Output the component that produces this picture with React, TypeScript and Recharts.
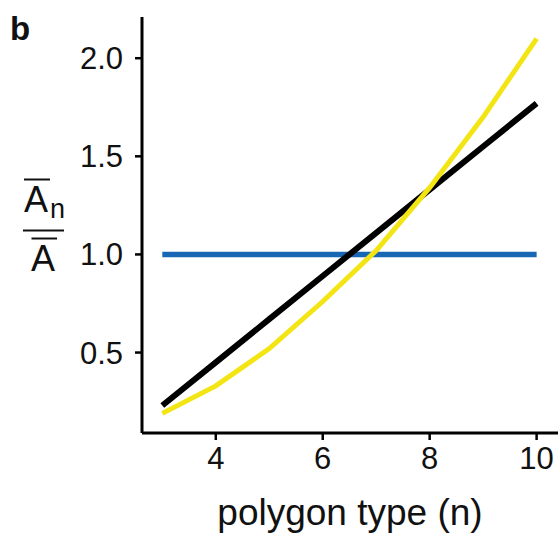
import React from 'react';
import { Line, LineChart, XAxis, YAxis } from 'recharts';

const polygonN = [3, 4, 5, 6, 7, 8, 9, 10];
const blackSeries = [0.23, 0.45, 0.67, 0.89, 1.11, 1.33, 1.55, 1.77];
const yellowSeries = [0.19, 0.33, 0.52, 0.76, 1.02, 1.34, 1.7, 2.1];
const blueSeries = [1, 1, 1, 1, 1, 1, 1, 1];

const xTicks = [4, 6, 8, 10];
const yTicks = [0.5, 1.0, 1.5, 2.0];

const FONT = '"Liberation Sans", Arial, Helvetica, sans-serif';
const INK = '#111';

const data = polygonN.map((n, i) => ({
  n,
  black: blackSeries[i],
  yellow: yellowSeries[i],
  blue: blueSeries[i],
}));

function XTick({ x, y, payload }: any) {
  return (
    <text x={x} y={y} dy={27} textAnchor="middle" fontSize={31} fontFamily={FONT} fill={INK}>
      {payload.value}
    </text>
  );
}

function YTick({ x, y, payload }: any) {
  return (
    <text x={x} y={y} dx={-2} dy={11} textAnchor="end" fontSize={31} fontFamily={FONT} fill={INK}>
      {Number(payload.value).toFixed(1)}
    </text>
  );
}

function XTitle({ viewBox }: any) {
  const cx = viewBox.x + viewBox.width / 2;
  return (
    <text x={cx} y={525} textAnchor="middle" fontSize={37} fontFamily={FONT} fill={INK}>
      polygon type (n)
    </text>
  );
}

// fraction label  (mean A_n over grand mean A) plus the panel letter
function YTitle() {
  return (
    <g fontFamily={FONT} fill={INK}>
      <text x={10} y={40} fontSize={33} fontWeight="bold">
        b
      </text>
      <line x1={24} x2={50} y1={179.5} y2={179.5} stroke={INK} strokeWidth={2} />
      <text x={24} y={212} fontSize={36}>
        A
      </text>
      <text x={50} y={218} fontSize={27}>
        n
      </text>
      <line x1={23} x2={64} y1={230.5} y2={230.5} stroke={INK} strokeWidth={2} />
      <line x1={31.5} x2={57} y1={238.5} y2={238.5} stroke={INK} strokeWidth={2} />
      <text x={31} y={270.5} fontSize={36}>
        A
      </text>
    </g>
  );
}

export default function App() {
  return (
    <div style={{ position: 'absolute', left: 0, top: 0, background: '#fff' }}>
      <LineChart
        width={559}
        height={535}
        data={data}
        margin={{ top: 17, right: 1, bottom: 0, left: 0 }}
      >
        <XAxis
          type="number"
          dataKey="n"
          domain={[2.62, 10.4]}
          ticks={xTicks}
          allowDataOverflow
          height={102}
          axisLine={{ stroke: '#000', strokeWidth: 3 }}
          tickLine={{ stroke: '#000', strokeWidth: 2.5 }}
          tickSize={7}
          tick={<XTick />}
          label={<XTitle />}
        />
        <YAxis
          type="number"
          domain={[0.09, 2.21]}
          ticks={yTicks}
          allowDataOverflow
          width={142}
          axisLine={{ stroke: '#000', strokeWidth: 3 }}
          tickLine={{ stroke: '#000', strokeWidth: 2.5 }}
          tickSize={7}
          tickMargin={10}
          tick={<YTick />}
          label={<YTitle />}
        />
        <Line
          type="linear"
          dataKey="blue"
          stroke="#1767b5"
          strokeWidth={5.5}
          dot={false}
          activeDot={false}
          isAnimationActive={false}
        />
        <Line
          type="linear"
          dataKey="black"
          stroke="#000"
          strokeWidth={6}
          dot={false}
          activeDot={false}
          isAnimationActive={false}
        />
        <Line
          type="linear"
          dataKey="yellow"
          stroke="#f3e514"
          strokeWidth={5}
          dot={false}
          activeDot={false}
          isAnimationActive={false}
        />
      </LineChart>
    </div>
  );
}
